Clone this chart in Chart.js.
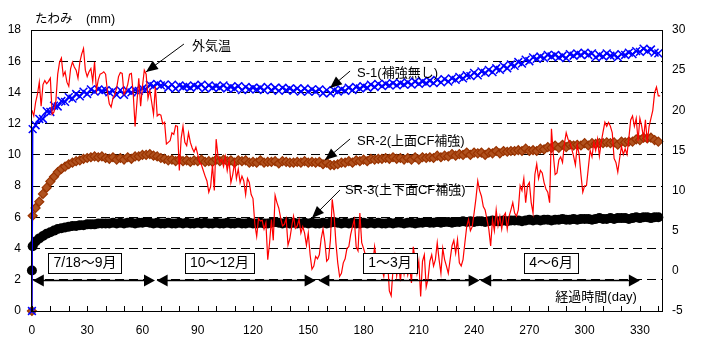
<!DOCTYPE html>
<html>
<head>
<meta charset="utf-8">
<script src="https://cdn.jsdelivr.net/npm/chart.js@4.4.1/dist/chart.umd.min.js"></script>
<style>
  html, body { margin: 0; padding: 0; background: #fff; }
  #wrap { width: 703px; height: 338px; }
</style>
</head>
<body>
<div id="wrap"><canvas id="chart"></canvas></div>
<script>
// outside temperature (right axis), one value per day from day 0
const tempC = [
  20.0, 19.3, 21.0, 22.0, 23.5, 20.5, 23.2, 23.7, 23.3, 23.6,
  24.0, 19.5, 19.8, 21.2, 24.5, 26.0, 26.5, 24.3, 24.8, 23.5,
  23.0, 25.2, 26.0, 25.4, 25.0, 24.0, 26.0, 27.0, 27.7, 25.0,
  24.2, 24.8, 25.2, 23.6, 26.0, 22.5, 23.8, 24.5, 24.6, 24.8,
  24.5, 22.3, 20.8, 20.4, 21.5, 22.0, 22.8, 24.2, 24.7, 24.6,
  22.0, 22.5, 23.2, 24.5, 24.6, 22.0, 18.0, 21.0, 24.0, 20.5,
  23.0, 25.0, 24.5, 21.5, 22.5, 21.0, 19.5, 23.0, 19.3, 19.5,
  19.4, 18.3, 18.5, 15.8, 16.0, 16.2, 17.2, 17.0, 18.1, 18.0,
  12.5, 16.5, 18.0, 16.0, 15.6, 17.2, 16.0, 15.3, 14.8, 15.4,
  14.5, 13.5, 13.2, 12.5, 11.8, 11.2, 9.8, 10.5, 13.2, 10.0,
  16.4, 14.3, 13.5, 13.9, 13.0, 14.2, 12.5, 13.8, 11.0, 12.0,
  13.5, 11.5, 12.7, 11.0, 11.8, 11.2, 9.5, 11.5, 11.0, 9.5,
  9.0, 5.8, 4.3, 6.5, 6.2, 6.3, 5.2, 6.0, 1.4, 3.5,
  6.4, 3.8, 9.4, 8.5, 7.8, 6.6, 5.6, 5.8, 6.5, 3.2,
  4.0, 5.5, 6.8, 5.3, 5.6, 6.4, 4.7, 5.5, 4.7, 3.2,
  4.7, 2.0, 0.2, 0.6, 1.8, 1.5, 2.0, 4.0, 5.2, 3.6,
  1.2, 1.5, 3.8, 8.9, 7.0, 3.5, 1.0, -0.7, -0.3, 1.0,
  1.5, 2.8, 3.0, 4.5, 5.5, 6.4, 3.0, 2.5, 7.2, 3.5,
  2.8, 2.0, 1.6, 1.2, 1.7, 0.8, 3.0, 1.2, 0.2, 0.9,
  0.2, -0.7, 1.0, 1.5, -2.5, -3.1, 0.2, 1.8, -0.6, 1.2,
  -1.3, 1.2, -0.4, 1.0, -0.5, 0.6, -1.5, 3.0, 1.4, -0.3,
  1.2, -3.2, 1.2, 2.0, -2.0, -1.0, 1.2, 2.0, 0.6, 1.4,
  3.5, 1.4, -0.3, 2.8, 1.4, 0.6, -0.3, 1.4, 3.1, 3.8,
  2.2, 3.9, 1.0, 0.6, 1.4, 3.5, 5.5, 6.4, 5.0, 5.5,
  7.2, 9.0, 11.2, 10.0, 9.3, 8.0, 7.6, 6.4, 5.2, 3.1,
  6.4, 5.0, 7.6, 5.6, 6.8, 5.2, 6.8, 7.2, 5.2, 6.8,
  7.6, 8.5, 7.2, 6.8, 7.6, 10.6, 10.0, 11.5, 8.5, 10.6,
  11.0, 8.5, 7.2, 12.0, 13.3, 11.5, 12.5, 12.2, 11.0, 10.2,
  9.8, 8.5, 17.7, 14.5, 12.0, 12.2, 13.8, 14.2, 13.5, 15.8,
  17.2, 16.4, 16.0, 15.2, 14.3, 13.2, 15.7, 14.5, 12.0, 9.8,
  10.6, 10.6, 12.8, 15.0, 14.2, 16.0, 15.0, 16.4, 14.3, 16.0,
  17.3, 18.5, 18.0, 18.5, 18.0, 17.2, 14.0, 13.5, 12.3, 14.0,
  15.5, 14.5, 15.2, 14.5, 16.5, 18.8, 19.3, 18.0, 19.0, 16.2,
  19.0, 18.0, 16.5, 18.8, 16.0, 18.0, 19.0, 20.0, 22.2, 22.9,
  21.8, 21.8
];

// deflection readings: day 0, day 0.4, then every 2 days (2..340)
const defStartDays = [0, 0.4];

const s1 = [
  0, 11.65,
  11.9, 12.3, 12.3, 12.8, 12.75, 13.15, 13.1, 13.45, 13.4, 13.7,
  13.6, 13.9, 13.75, 14.05, 13.9, 14.2, 14.05, 14.2, 14.1, 14.15,
  14.0, 14.1, 13.85, 14.15, 13.85, 14.1, 14.0, 14.15, 14.1, 14.25,
  14.2, 14.5, 14.4, 14.55, 14.45, 14.5, 14.3, 14.5, 14.25, 14.45,
  14.35, 14.4, 14.3, 14.45, 14.35, 14.5, 14.25, 14.45, 14.3, 14.4,
  14.3, 14.45, 14.25, 14.35, 14.25, 14.4, 14.15, 14.35, 14.2, 14.3,
  14.2, 14.3, 14.15, 14.35, 14.15, 14.3, 14.1, 14.3, 14.15, 14.25,
  14.1, 14.25, 14.05, 14.25, 14.05, 14.2, 14.05, 14.2, 13.95, 14.15,
  13.95, 14.15, 14.05, 14.2, 14.1, 14.3, 14.15, 14.35, 14.25, 14.4,
  14.3, 14.5, 14.35, 14.55, 14.4, 14.55, 14.45, 14.6, 14.45, 14.6,
  14.5, 14.65, 14.5, 14.7, 14.55, 14.7, 14.6, 14.75, 14.6, 14.8,
  14.65, 14.85, 14.7, 14.9, 14.8, 15.0, 14.9, 15.1, 15.05, 15.25,
  15.1, 15.35, 15.25, 15.45, 15.3, 15.55, 15.45, 15.7, 15.55, 15.8,
  15.7, 15.95, 15.85, 16.1, 16.0, 16.25, 16.15, 16.3, 16.2, 16.4,
  16.3, 16.4, 16.25, 16.35, 16.2, 16.45, 16.35, 16.5, 16.4, 16.55,
  16.4, 16.5, 16.25, 16.4, 16.3, 16.5, 16.35, 16.4, 16.25, 16.45,
  16.4, 16.55, 16.45, 16.65, 16.6, 16.8, 16.65, 16.75, 16.55, 16.5
];

const sr2 = [
  0, 6.1,
  6.6, 7.0, 7.5, 7.9, 8.3, 8.6, 8.9, 9.1, 9.25, 9.4,
  9.5, 9.6, 9.65, 9.75, 9.8, 9.85, 9.9, 9.85, 9.9, 9.8,
  9.75, 9.85, 9.7, 9.8, 9.7, 9.85, 9.75, 9.9, 9.9, 10.0,
  10.0, 10.05, 9.95, 9.9, 9.8, 9.75, 9.65, 9.7, 9.6, 9.7,
  9.6, 9.65, 9.55, 9.65, 9.6, 9.7, 9.55, 9.6, 9.55, 9.7,
  9.6, 9.7, 9.6, 9.65, 9.5, 9.65, 9.6, 9.65, 9.5, 9.55,
  9.5, 9.65, 9.5, 9.55, 9.55, 9.6, 9.45, 9.6, 9.55, 9.5,
  9.5, 9.55, 9.5, 9.6, 9.5, 9.55, 9.5, 9.55, 9.4, 9.5,
  9.35, 9.35, 9.4, 9.5, 9.5, 9.6, 9.5, 9.65, 9.6, 9.7,
  9.6, 9.75, 9.7, 9.75, 9.75, 9.8, 9.75, 9.85, 9.75, 9.8,
  9.7, 9.8, 9.7, 9.85, 9.7, 9.85, 9.8, 9.85, 9.8, 9.95,
  9.85, 9.95, 9.9, 10.05, 9.95, 10.05, 10.0, 10.15, 10.0, 10.15,
  10.1, 10.15, 10.0, 10.15, 10.1, 10.25, 10.1, 10.25, 10.2, 10.25,
  10.25, 10.3, 10.25, 10.4, 10.25, 10.3, 10.25, 10.4, 10.35, 10.5,
  10.45, 10.6, 10.45, 10.65, 10.5, 10.65, 10.6, 10.65, 10.6, 10.75,
  10.6, 10.75, 10.7, 10.75, 10.75, 10.8, 10.75, 10.8, 10.65, 10.85,
  10.8, 10.85, 10.85, 11.0, 10.95, 11.1, 11.05, 11.1, 10.95, 10.85
];

const sr3 = [
  2.6, 4.15,
  4.45, 4.65, 4.8, 4.95, 5.05, 5.15, 5.25, 5.3, 5.35, 5.4,
  5.45, 5.45, 5.5, 5.5, 5.55, 5.55, 5.55, 5.6, 5.6, 5.6,
  5.6, 5.65, 5.6, 5.65, 5.6, 5.65, 5.65, 5.6, 5.65, 5.65,
  5.7, 5.65, 5.6, 5.65, 5.6, 5.6, 5.65, 5.6, 5.6, 5.65,
  5.6, 5.65, 5.6, 5.6, 5.65, 5.6, 5.65, 5.6, 5.6, 5.65,
  5.6, 5.6, 5.65, 5.6, 5.6, 5.65, 5.6, 5.6, 5.65, 5.6,
  5.6, 5.65, 5.6, 5.6, 5.65, 5.7, 5.65, 5.6, 5.65, 5.6,
  5.65, 5.6, 5.6, 5.65, 5.6, 5.65, 5.6, 5.6, 5.65, 5.6,
  5.65, 5.7, 5.65, 5.6, 5.65, 5.6, 5.65, 5.6, 5.6, 5.65,
  5.6, 5.65, 5.6, 5.65, 5.6, 5.6, 5.65, 5.6, 5.65, 5.65,
  5.6, 5.65, 5.65, 5.6, 5.65, 5.65, 5.7, 5.65, 5.65, 5.7,
  5.65, 5.7, 5.7, 5.65, 5.7, 5.7, 5.75, 5.7, 5.75, 5.7,
  5.75, 5.75, 5.7, 5.75, 5.8, 5.75, 5.75, 5.8, 5.75, 5.8,
  5.8, 5.8, 5.75, 5.8, 5.85, 5.8, 5.85, 5.8, 5.85, 5.85,
  5.8, 5.85, 5.85, 5.9, 5.85, 5.85, 5.9, 5.85, 5.9, 5.9,
  5.9, 5.85, 5.9, 5.95, 5.9, 5.9, 5.95, 5.9, 5.95, 5.95,
  5.95, 5.9, 5.95, 6.0, 5.95, 6.0, 6.0, 5.95, 6.0, 6.0
];

const xTickLabels = [0, 30, 60, 90, 120, 150, 180, 210, 240, 270, 300, 330];

// seasons: [start day, end day]
const periodSpans = [[0.5, 66.8], [67.7, 154], [155.5, 243], [243.3, 330]];
const periodLabels = ['7/18～9月', '10～12月', '1～3月', '4～6月'];
const periodLabelDays = [28.8, 101.8, 194.4, 281.8];

const seriesNames = ['外気温', 'S-1(補強無し)', 'SR-2(上面CF補強)', 'SR-3(上下面CF補強)'];

// label placement (day, mm) for the callouts
const callouts = [
  { text: seriesNames[0], tx: 86.9, ty: 16.98, x1: 82.5, y1: 17.1, x2: 61.9, y2: 15.31 },
  { text: seriesNames[1], tx: 176.5, ty: 15.21, x1: 172.7, y1: 15.37, x2: 161.8, y2: 14.28 },
  { text: seriesNames[2], tx: 176.5, ty: 10.89, x1: 172.7, y1: 11.02, x2: 159.1, y2: 9.67 },
  { text: seriesNames[3], tx: 169.9, ty: 7.75, x1: 167.2, y1: 7.75, x2: 152.0, y2: 5.96 }
];

const FONT = '"Liberation Sans", "Noto Sans CJK JP", sans-serif';

const tempDays = tempC.map((_, i) => i);
const defDays = defStartDays.concat(Array.from({ length: s1.length - 2 }, (_, i) => (i + 1) * 2));
const toXY = (xs, ys) => ys.map((v, i) => ({ x: xs[i], y: v }));

function head(ctx, tx, ty, fx, fy, len, half) {
  const ang = Math.atan2(ty - fy, tx - fx);
  const c = Math.cos(ang), s = Math.sin(ang);
  const bx = tx - len * c, by = ty - len * s;
  ctx.beginPath();
  ctx.moveTo(tx, ty);
  ctx.lineTo(bx - half * s, by + half * c);
  ctx.lineTo(bx + half * s, by - half * c);
  ctx.closePath();
  ctx.fill();
}

const overlay = {
  id: 'overlay',
  afterDatasetsDraw(chart) {
    const { ctx, chartArea: a, scales: { x, y } } = chart;
    const X = d => x.getPixelForValue(d);
    const Y = v => y.getPixelForValue(v);
    ctx.save();
    ctx.strokeStyle = '#000';
    ctx.fillStyle = '#000';

    // frame
    ctx.lineWidth = 1;
    const l = Math.round(a.left) + 0.5, t = Math.round(a.top) + 0.5;
    ctx.strokeRect(l, t, Math.round(a.right) - Math.round(a.left), Math.round(a.bottom) - Math.round(a.top));

    // inward ticks on x axis every 10 days
    const b = Math.round(a.bottom);
    for (let d = 0; d <= 340; d += 10) {
      const px = Math.round(X(d)) + 0.5;
      ctx.beginPath();
      ctx.moveTo(px, b);
      ctx.lineTo(px, b - 5);
      ctx.stroke();
    }

    // season arrows on the 2 mm line
    const ay = Math.round(Y(2)) + 0.5;
    ctx.lineWidth = 1.5;
    periodSpans.forEach(([d0, d1]) => {
      const p0 = X(d0), p1 = X(d1);
      ctx.beginPath();
      ctx.moveTo(p0 + 6, ay);
      ctx.lineTo(p1 - 6, ay);
      ctx.stroke();
      head(ctx, p0, ay, p0 + 20, ay, 11, 6);
      head(ctx, p1, ay, p1 - 20, ay, 11, 6);
    });

    // season label boxes
    ctx.font = '14px ' + FONT;
    ctx.textAlign = 'center';
    ctx.textBaseline = 'middle';
    ctx.lineWidth = 1;
    periodLabels.forEach((lab, i) => {
      const cx = X(periodLabelDays[i]), cy = Y(3.1);
      const w = Math.round(ctx.measureText(lab).width + 10), h = 20;
      const bx = Math.round(cx - w / 2) + 0.5, by = Math.round(cy - h / 2) + 0.5;
      ctx.fillStyle = '#fff';
      ctx.fillRect(bx, by, w, h);
      ctx.strokeRect(bx, by, w, h);
      ctx.fillStyle = '#000';
      ctx.fillText(lab, cx, cy + 1);
    });

    // callouts
    ctx.font = '13px ' + FONT;
    ctx.textAlign = 'left';
    callouts.forEach(c => {
      const p1x = X(c.x1), p1y = Y(c.y1), p2x = X(c.x2), p2y = Y(c.y2);
      ctx.lineWidth = 1;
      ctx.beginPath();
      ctx.moveTo(p1x, p1y);
      ctx.lineTo(p2x, p2y);
      ctx.stroke();
      head(ctx, p2x, p2y, p1x, p1y, 12, 5);
      ctx.fillText(c.text, X(c.tx), Y(c.ty));
    });

    // axis titles
    ctx.font = '13px ' + FONT;
    ctx.textAlign = 'right';
    ctx.fillText('経過時間(day)', X(328.4), Y(0.86));
    ctx.textAlign = 'left';
    ctx.font = '12.5px ' + FONT;
    ctx.fillText('たわみ', a.left + 4, a.top - 10);
    ctx.fillText('(mm)', a.left + 55, a.top - 10);
    ctx.restore();
  }
};

Chart.defaults.font.family = FONT;
Chart.defaults.font.size = 12;
Chart.defaults.color = '#000';

new Chart(document.getElementById('chart'), {
  type: 'line',
  data: {
    datasets: [
      {
        label: seriesNames[0],
        data: toXY(tempDays, tempC),
        yAxisID: 'y2',
        borderColor: '#FF0000',
        borderWidth: 1.2,
        pointRadius: 0,
        order: 0
      },
      {
        label: seriesNames[1],
        data: toXY(defDays, s1),
        yAxisID: 'y',
        borderColor: '#0000FF',
        borderWidth: 1.5,
        pointStyle: 'crossRot',
        pointRadius: 5.5,
        pointBorderColor: '#0000FF',
        pointBorderWidth: 1.5,
        clip: false,
        order: 1
      },
      {
        label: seriesNames[2],
        data: toXY(defDays, sr2),
        yAxisID: 'y',
        borderColor: '#993300',
        borderWidth: 1,
        pointStyle: 'rectRot',
        pointRadius: 4.5,
        pointBorderColor: '#993300',
        pointBackgroundColor: '#B0521F',
        pointBorderWidth: 1.2,
        clip: false,
        order: 2
      },
      {
        label: seriesNames[3],
        data: toXY(defDays, sr3),
        yAxisID: 'y',
        borderColor: '#000',
        borderWidth: 1,
        pointStyle: 'circle',
        pointRadius: 5,
        pointBorderColor: '#000',
        pointBackgroundColor: '#000',
        pointBorderWidth: 0,
        clip: false,
        order: 3
      }
    ]
  },
  options: {
    responsive: true,
    maintainAspectRatio: false,
    animation: false,
    layout: { padding: { top: 30, left: 0, right: 0, bottom: 0 } },
    plugins: {
      legend: { display: false },
      tooltip: { enabled: false }
    },
    scales: {
      x: {
        type: 'linear',
        min: -0.5,
        max: 342,
        afterBuildTicks: s => { s.ticks = xTickLabels.map(v => ({ value: v })); },
        afterFit: s => { s.height = 27; },
        ticks: { autoSkip: false, maxRotation: 0, padding: 4, font: { size: 12 } },
        grid: { display: false },
        border: { display: false }
      },
      y: {
        position: 'left',
        min: 0,
        max: 18,
        afterFit: s => { s.width = 31; },
        ticks: { stepSize: 2, padding: 10, font: { size: 12 } },
        grid: {
          drawTicks: false,
          color: c => (c.tick.value === 0 || c.tick.value === 18) ? 'rgba(0,0,0,0)' : '#000',
          lineWidth: 1
        },
        border: { display: false, dash: [9, 5] }
      },
      y2: {
        position: 'right',
        min: -5,
        max: 30,
        afterFit: s => { s.width = 41; },
        ticks: { stepSize: 5, padding: 10, font: { size: 12 } },
        grid: { drawOnChartArea: false, drawTicks: false },
        border: { display: false }
      }
    }
  },
  plugins: [overlay]
});
</script>
</body>
</html>
